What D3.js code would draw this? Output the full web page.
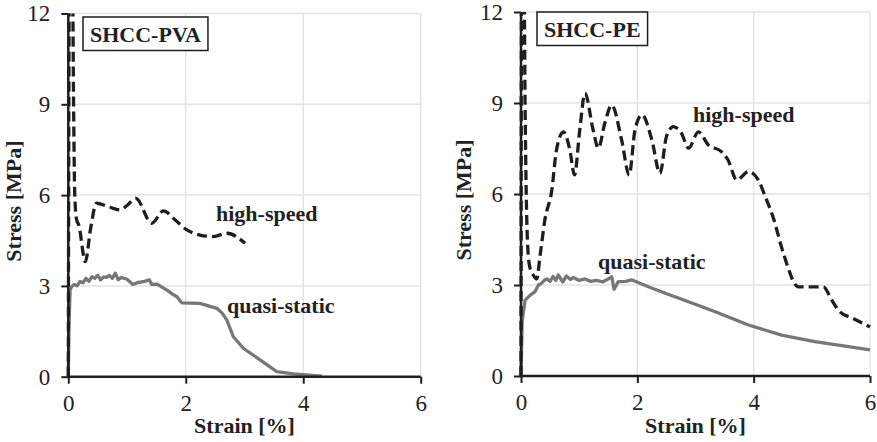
<!DOCTYPE html>
<html>
<head>
<script src="https://d3js.org/d3.v7.min.js"></script>
<style>
  body { margin: 0; background: #fff; }
  svg text { font-family: "Times New Roman", "Liberation Serif", Times, serif; fill: #222; }
</style>
</head>
<body>
<svg width="877" height="442"></svg>
<script>
// tick values
const xTicks = [0, 2, 4, 6];
const yTicks = [0, 3, 6, 9, 12];

// SHCC-PVA, [strain %, stress MPa]
const pvaHighSpeed = [
  [0, 0], [0.02, 13.5], [0.07, 13.5], [0.09, 9], [0.11, 6], [0.14, 5.2], [0.18, 5.0],
  [0.29, 3.8], [0.38, 4.9], [0.48, 5.73], [0.68, 5.62], [0.88, 5.51], [0.99, 5.64],
  [1.15, 5.89], [1.42, 5.07], [1.62, 5.48], [1.82, 5.18], [2.02, 4.85], [2.24, 4.68],
  [2.47, 4.63], [2.70, 4.74], [3.01, 4.41]
];
const pvaQuasiStatic = [
  [0, 0], [0.01, 1.5], [0.03, 2.86], [0.05, 2.95], [0.1, 3.05], [0.15, 3.0], [0.2, 3.15],
  [0.25, 3.1], [0.3, 3.25], [0.35, 3.15], [0.4, 3.3], [0.45, 3.25], [0.5, 3.35],
  [0.55, 3.2], [0.6, 3.3], [0.65, 3.28], [0.7, 3.35], [0.75, 3.25], [0.8, 3.42],
  [0.85, 3.2], [0.9, 3.28], [1.0, 3.22], [1.1, 3.05], [1.2, 3.12], [1.3, 3.15],
  [1.38, 3.2], [1.42, 3.05], [1.51, 3.06], [1.68, 2.86], [1.78, 2.72], [1.85, 2.64],
  [1.93, 2.44], [2.24, 2.42], [2.53, 2.26], [2.62, 2.1], [2.70, 1.87], [2.81, 1.32],
  [2.98, 0.94], [3.27, 0.55], [3.55, 0.17], [3.83, 0.09], [4.32, 0.02]
];

// SHCC-PE
const peHighSpeed = [
  [0, 0], [0.01, 13.5], [0.05, 13.5], [0.07, 9], [0.09, 6], [0.11, 4.5], [0.15, 3.6],
  [0.22, 3.3], [0.27, 3.2], [0.33, 4.0], [0.41, 5.14], [0.53, 6.13], [0.61, 7.45],
  [0.73, 8.05], [0.84, 7.45], [0.92, 6.63], [1.01, 8.11], [1.10, 9.32], [1.24, 8.11],
  [1.33, 7.51], [1.44, 8.33], [1.56, 8.93], [1.73, 7.78], [1.86, 6.63], [1.96, 8.11],
  [2.08, 8.61], [2.25, 7.78], [2.39, 6.68], [2.50, 7.89], [2.62, 8.22], [2.76, 8.0],
  [2.88, 7.51], [3.05, 8.05], [3.22, 7.62], [3.45, 7.39], [3.56, 7.12], [3.71, 6.46],
  [3.91, 6.74], [4.08, 6.46], [4.20, 5.91], [4.34, 5.2], [4.51, 4.05], [4.77, 2.94],
  [4.91, 2.94], [5.20, 2.94], [5.34, 2.51], [5.48, 2.12], [5.71, 1.90], [6.0, 1.62]
];
const peQuasiStatic = [
  [0, 0], [0.02, 1.8], [0.07, 2.5], [0.15, 2.65], [0.24, 2.78], [0.30, 3.0], [0.35, 3.05],
  [0.41, 3.17], [0.45, 3.2], [0.5, 3.12], [0.55, 3.28], [0.6, 3.15], [0.64, 3.33],
  [0.72, 3.1], [0.78, 3.3], [0.85, 3.18], [0.9, 3.25], [1.0, 3.15], [1.1, 3.2],
  [1.2, 3.12], [1.3, 3.15], [1.4, 3.1], [1.5, 3.2], [1.56, 3.27], [1.60, 2.86],
  [1.67, 3.11], [1.80, 3.12], [1.90, 3.17], [2.19, 2.94], [2.48, 2.73], [2.88, 2.45],
  [3.34, 2.12], [3.91, 1.68], [4.48, 1.35], [5.05, 1.13], [5.63, 0.97], [6.0, 0.86]
];

const svg = d3.select("svg");

function drawPanel(opts) {
  const x = d3.scaleLinear().domain([0, 6]).range([opts.left, opts.right]);
  const y = d3.scaleLinear().domain([0, 12]).range([opts.bottom, opts.top]);
  const g = svg.append("g");

  // gridlines
  g.selectAll(".vg").data(xTicks.slice(1)).join("line")
    .attr("x1", d => x(d)).attr("x2", d => x(d))
    .attr("y1", y(0)).attr("y2", y(12))
    .attr("stroke", "#e3e3e3").attr("stroke-width", 1.5);
  g.selectAll(".hg").data(yTicks.slice(1)).join("line")
    .attr("x1", x(0)).attr("x2", x(6))
    .attr("y1", d => y(d)).attr("y2", d => y(d))
    .attr("stroke", "#e3e3e3").attr("stroke-width", 1.5);

  // clip to plot area
  const clipId = "clip-" + opts.id;
  svg.append("clipPath").attr("id", clipId).append("rect")
    .attr("x", x(0) - 3).attr("y", y(12))
    .attr("width", x(6) - x(0) + 6).attr("height", y(0) - y(12));

  const line = d3.line().x(d => x(d[0])).y(d => y(d[1]));

  g.append("path").datum(opts.quasi)
    .attr("clip-path", `url(#${clipId})`)
    .attr("fill", "none").attr("stroke", "#777")
    .attr("stroke-width", 3.3).attr("stroke-linejoin", "round")
    .attr("d", line);

  g.append("path").datum(opts.high)
    .attr("clip-path", `url(#${clipId})`)
    .attr("fill", "none").attr("stroke", "#1e1e1e")
    .attr("stroke-width", 3.3).attr("stroke-dasharray", "10,5")
    .attr("d", line.curve(d3.curveMonotoneX));

  // axes
  const ax = g.append("g").attr("transform", `translate(0,${y(0)})`)
    .call(d3.axisBottom(x).tickValues(xTicks).tickFormat(d3.format("d")).tickSize(7).tickPadding(11));
  const ay = g.append("g").attr("transform", `translate(${x(0)},0)`)
    .call(d3.axisLeft(y).tickValues(yTicks).tickFormat(d3.format("d")).tickSize(7).tickPadding(11));
  [ax, ay].forEach(a => {
    a.attr("font-family", null).attr("font-size", null);
    a.select(".domain").attr("stroke", "#1e1e1e").attr("stroke-width", 2.5);
    a.selectAll(".tick line").attr("stroke", "#1e1e1e").attr("stroke-width", 2);
    a.selectAll(".tick text").attr("font-size", 23).attr("fill", "#222");
  });
  ax.select(".domain").attr("d", `M${x(0)},0H${x(6)}`);
  ay.select(".domain").attr("d", `M0,${y(0)}V${y(12)}`);

  // axis titles
  g.append("text").attr("x", (x(0) + x(6)) / 2).attr("y", 433)
    .attr("text-anchor", "middle").attr("font-size", 22).attr("font-weight", "bold")
    .text("Strain [%]");
  g.append("text")
    .attr("transform", `translate(${opts.yTitleX},${(y(0) + y(12)) / 2 + 6}) rotate(-90)`)
    .attr("text-anchor", "middle").attr("font-size", 22).attr("font-weight", "bold")
    .text("Stress [MPa]");

  // title box
  const box = g.append("rect");
  const t = g.append("text").attr("x", opts.boxX).attr("y", opts.boxBase)
    .attr("font-size", 22).attr("font-weight", "bold").text(opts.title);
  const bb = t.node().getBBox();
  box.attr("x", bb.x - 7).attr("y", opts.boxBase - 25)
    .attr("width", bb.width + 14).attr("height", 33.5)
    .attr("fill", "#fff").attr("stroke", "#1e1e1e").attr("stroke-width", 1.5);

  // series labels
  g.append("text").attr("x", opts.highLabel[0]).attr("y", opts.highLabel[1])
    .attr("font-size", 22).attr("font-weight", "bold").text("high-speed");
  g.append("text").attr("x", opts.quasiLabel[0]).attr("y", opts.quasiLabel[1])
    .attr("font-size", 22).attr("font-weight", "bold").text("quasi-static");
}

drawPanel({
  id: "pva", title: "SHCC-PVA",
  left: 68.3, right: 420.7, top: 13.5, bottom: 376.7,
  high: pvaHighSpeed, quasi: pvaQuasiStatic,
  yTitleX: 21, boxX: 90, boxBase: 42,
  highLabel: [216, 221], quasiLabel: [227, 313]
});

drawPanel({
  id: "pe", title: "SHCC-PE",
  left: 521, right: 870, top: 12, bottom: 376,
  high: peHighSpeed, quasi: peQuasiStatic,
  yTitleX: 471, boxX: 544, boxBase: 37,
  highLabel: [693, 122], quasiLabel: [598, 269]
});
</script>
</body>
</html>
